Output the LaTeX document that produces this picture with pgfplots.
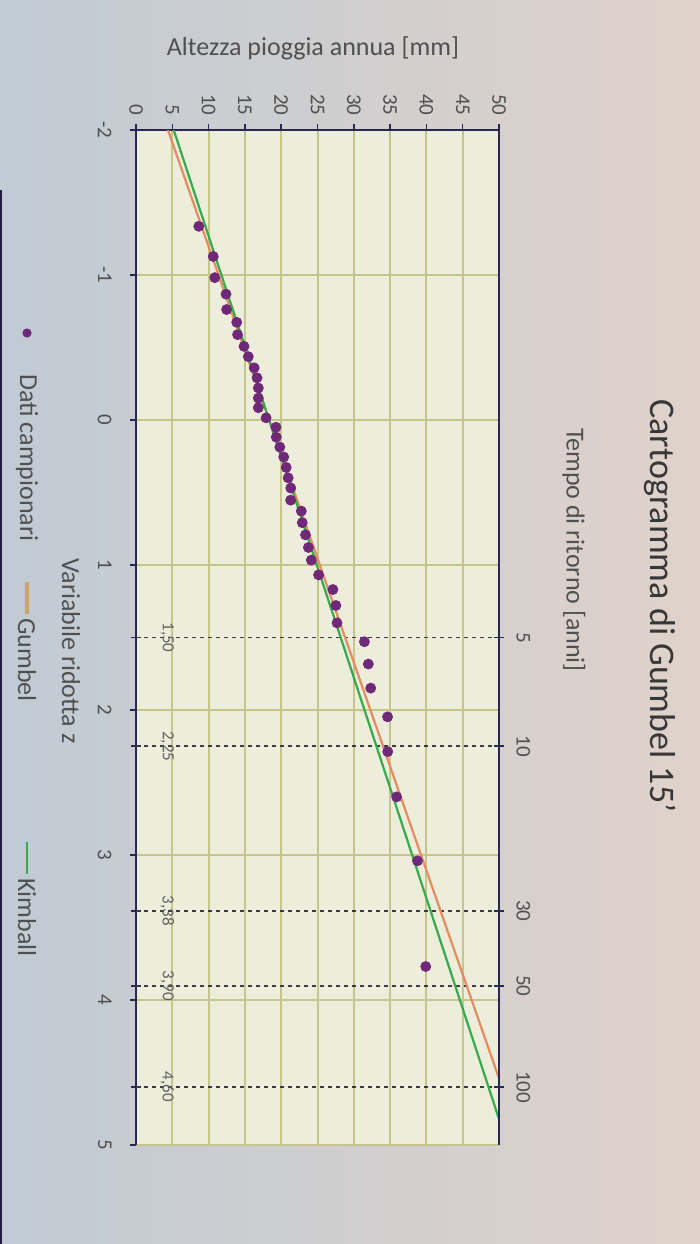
\documentclass[border=0pt]{standalone}
\usepackage{pgfplots}
\pgfplotsset{compat=1.18}
\usepackage{fontspec}
\setmainfont{Carlito}
\definecolor{bgL}{RGB}{192,203,212}
\definecolor{bgR}{RGB}{224,210,202}
\definecolor{plotbg}{RGB}{237,237,220}
\definecolor{gridc}{RGB}{198,198,140}
\definecolor{axc}{RGB}{40,40,85}
\definecolor{txt}{RGB}{80,80,80}
\definecolor{ptc}{RGB}{112,40,120}
\definecolor{gum}{RGB}{228,140,95}
\definecolor{gumleg}{RGB}{205,165,105}
\definecolor{kim}{RGB}{55,170,75}
\definecolor{dashc}{RGB}{60,60,60}
\begin{document}
\begin{tikzpicture}
\useasboundingbox (0,0) rectangle (350pt,-622pt);
\shade[left color=bgL, right color=bgR] (0,0) rectangle (350pt,-622pt);
\fill[axc!80!black] (0,-95pt) rectangle (1.2pt,-622pt);
\begin{axis}[
  at={(158.75pt,-318.75pt)}, anchor=center,
  scale only axis, width=181.5pt, height=507.5pt,
  xmin=0, xmax=50, ymin=-2, ymax=5, y dir=reverse,
  axis background/.style={fill=plotbg},
  separate axis lines,
  axis x line*=top, axis y line*=box,
  axis line style={axc, line width=1pt},
  xtick={0,5,...,50}, ytick={-2,-1,...,5},
  ytick pos=left,
  tick align=outside, major tick length=3pt,
  tick style={axc, line width=0.8pt},
  xmajorgrids, ymajorgrids,
  major grid style={gridc, line width=1pt},
  /pgf/number format/assume math mode=true,
  xticklabel style={rotate=-90, anchor=east, font=\fontsize{10.5}{12}\selectfont, text=txt, inner xsep=4pt},
  yticklabel style={rotate=-90, anchor=north, font=\fontsize{10.5}{12}\selectfont, text=txt, inner ysep=9pt},
  extra y ticks={1.5,2.25,3.384,3.902,4.6},
  extra y tick labels={},
  extra y tick style={grid=none, tick align=center, major tick length=5pt},
]
\addplot[dashc, dash pattern=on 2pt off 2pt, line width=0.8pt] coordinates {(0,1.5) (50,1.5)};
\addplot[dashc, dash pattern=on 2pt off 2pt, line width=0.8pt] coordinates {(0,2.25) (50,2.25)};
\addplot[dashc, dash pattern=on 2pt off 2pt, line width=0.8pt] coordinates {(0,3.384) (50,3.384)};
\addplot[dashc, dash pattern=on 2pt off 2pt, line width=0.8pt] coordinates {(0,3.902) (50,3.902)};
\addplot[dashc, dash pattern=on 2pt off 2pt, line width=0.8pt] coordinates {(0,4.6) (50,4.6)};
\addplot[only marks, mark=*, mark size=2.5pt, ptc, mark options={draw=ptc, fill=ptc}] coordinates {
(8.65,-1.336) (10.64,-1.128) (10.85,-0.982) (12.40,-0.868) (12.48,-0.762)
(13.87,-0.674) (13.99,-0.589) (14.88,-0.508) (15.47,-0.437) (16.28,-0.360)
(16.67,-0.291) (16.85,-0.221) (16.85,-0.151) (16.85,-0.085) (17.92,-0.015)
(19.28,0.050) (19.32,0.118) (19.81,0.187) (20.35,0.255) (20.69,0.327)
(20.96,0.399) (21.32,0.469) (21.30,0.553) (22.77,0.628) (22.90,0.708)
(23.35,0.792) (23.75,0.879) (24.15,0.966) (25.15,1.068) (27.12,1.169)
(27.53,1.279) (27.69,1.399) (31.46,1.529) (32.00,1.683) (32.33,1.849)
(34.65,2.047) (34.67,2.287) (35.90,2.599) (38.77,3.040) (39.91,3.769)
};
\addplot[gum, line width=1.1pt] coordinates {(4.4,-2) (50,4.54)};
\addplot[kim, line width=1.1pt] coordinates {(5.2,-2) (50,4.82)};
\node[rotate=-90, font=\fontsize{8.5}{10}\selectfont, text=dashc!80] at (axis cs:4.3,1.5) {1,50};
\node[rotate=-90, font=\fontsize{8.5}{10}\selectfont, text=dashc!80] at (axis cs:4.3,2.25) {2,25};
\node[rotate=-90, font=\fontsize{8.5}{10}\selectfont, text=dashc!80] at (axis cs:4.3,3.384) {3,38};
\node[rotate=-90, font=\fontsize{8.5}{10}\selectfont, text=dashc!80] at (axis cs:4.3,3.902) {3,90};
\node[rotate=-90, font=\fontsize{8.5}{10}\selectfont, text=dashc!80] at (axis cs:4.3,4.6) {4,60};
\end{axis}
\begin{axis}[
  at={(158.75pt,-318.75pt)}, anchor=center,
  scale only axis, width=181.5pt, height=507.5pt,
  xmin=0, xmax=50, ymin=-2, ymax=5, y dir=reverse,
  axis x line=none, axis y line*=right,
  axis line style={axc, line width=1pt},
  ytick={1.5,2.25,3.384,3.902,4.6},
  yticklabels={5,10,30,50,100},
  tick align=center, major tick length=5pt,
  tick style={axc, line width=0.8pt},
  /pgf/number format/assume math mode=true,
  yticklabel style={rotate=-90, anchor=south, font=\fontsize{10.5}{12}\selectfont, text=txt, inner ysep=6pt},
]
\end{axis}
% titles
\node[rotate=-90, font=\fontsize{18}{20}\selectfont, text={rgb,255:red,55;green,55;blue,55}] at (330pt,-303pt) {Cartogramma di Gumbel 15'};
\node[rotate=-90, font=\fontsize{13}{15}\selectfont, text=txt] at (287pt,-275pt) {Tempo di ritorno [anni]};
\node[font=\fontsize{13}{15}\selectfont, text=txt] at (156.5pt,-24pt) {Altezza pioggia annua [mm]};
\node[rotate=-90, font=\fontsize{13}{15}\selectfont, text=txt] at (35.5pt,-325.5pt) {Variabile ridotta z};
% legend
\fill[ptc] (13.5pt,-166.5pt) circle (2.3pt);
\node[rotate=-90, anchor=west, inner sep=0pt, font=\fontsize{13}{15}\selectfont, text=txt] at (13.5pt,-187pt) {Dati campionari};
\draw[gumleg, line width=2.2pt] (13.5pt,-291pt) -- (13.5pt,-307pt);
\node[rotate=-90, anchor=west, inner sep=0pt, font=\fontsize{13}{15}\selectfont, text=txt] at (13.5pt,-309pt) {Gumbel};
\draw[kim, line width=1.1pt] (13.5pt,-421pt) -- (13.5pt,-437pt);
\node[rotate=-90, anchor=west, inner sep=0pt, font=\fontsize{13}{15}\selectfont, text=txt] at (13.5pt,-439pt) {Kimball};
\end{tikzpicture}
\end{document}
